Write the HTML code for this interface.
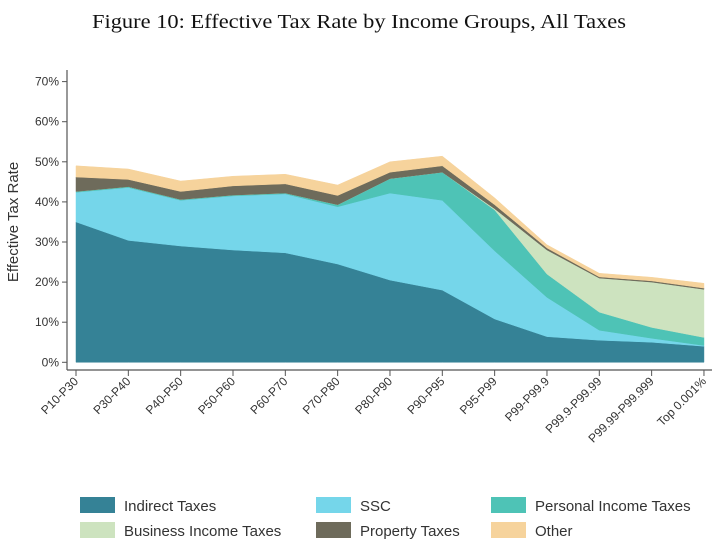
<!DOCTYPE html>
<html><head><meta charset="utf-8"><style>
body{margin:0;background:#fff;width:718px;height:554px;overflow:hidden}
svg{display:block;font-family:"Liberation Sans",sans-serif}
</style></head><body>
<svg id="chart" width="718" height="554">
<text x="359" y="28" text-anchor="middle" font-family="Liberation Serif,serif" font-size="20" fill="#111" textLength="534" lengthAdjust="spacingAndGlyphs">Figure 10: Effective Tax Rate by Income Groups, All Taxes</text>
<text transform="translate(18,222) rotate(-90)" text-anchor="middle" font-size="15" fill="#333">Effective Tax Rate</text>
<g id="areas"></g><g id="axes"></g><g id="legend"></g>
</svg>
<script>
const categories=["P10-P30","P30-P40","P40-P50","P50-P60","P60-P70","P70-P80","P80-P90","P90-P95","P95-P99","P99-P99.9","P99.9-P99.99","P99.99-P99.999","Top 0.001%"];
const indirect=[35,30.4,29,28,27.3,24.5,20.5,18,10.8,6.4,5.5,5,4];
const ssc=[7.4,13.2,11.4,13.5,14.7,14.3,21.7,22.4,17,9.8,2.5,1,0.2];
const personal=[0.2,0.2,0.2,0.2,0.2,0.5,3.6,7,10.2,5.8,4.5,2.7,2];
const business=[0,0,0,0,0,0,0,0,0.3,6,8.5,11.3,12];
const property=[3.6,1.8,2,2.3,2.3,2.3,1.6,1.6,1,0.5,0.3,0.3,0.3];
const other=[2.8,2.6,2.6,2.4,2.4,2.6,2.6,2.4,1.7,0.8,0.9,0.9,1.2];
const yTicks=[0,10,20,30,40,50,60,70];
const seriesNames=["Indirect Taxes","SSC","Personal Income Taxes","Business Income Taxes","Property Taxes","Other"];
const seriesData=[indirect,ssc,personal,business,property,other];
const colors=["#358296","#75d6ea","#4ec3b6","#cde3bf","#6e6b5b","#f6d39c"];
const NS="http://www.w3.org/2000/svg";
const x0=76,xStep=52.33,y0=362.3,yPer=4.01;
const xs=i=>x0+i*xStep, ys=v=>y0-v*yPer;
function mk(t,a,p){const e=document.createElementNS(NS,t);for(const k in a)e.setAttribute(k,a[k]);p.appendChild(e);return e;}
const gA=document.getElementById('areas');
let base=categories.map(()=>0);
seriesData.forEach((s,k)=>{
  const top=base.map((b,i)=>b+s[i]);
  let d=top.map((v,i)=>(i?'L':'M')+xs(i)+','+ys(v)).join('');
  for(let i=categories.length-1;i>=0;i--)d+='L'+xs(i)+','+ys(base[i]);
  const p=mk('path',{d:d+'Z',fill:colors[k],stroke:colors[k],'stroke-width':0.5},gA);
  
  
  base=top;
});
const gX=document.getElementById('axes');
mk('line',{x1:67,y1:70,x2:67,y2:370,stroke:'#555','stroke-width':1.2},gX);
mk('line',{x1:67,y1:370,x2:712,y2:370,stroke:'#555','stroke-width':1.2},gX);
yTicks.forEach(t=>{
  mk('line',{x1:62,x2:67,y1:ys(t),y2:ys(t),stroke:'#555'},gX);
  const tx=mk('text',{x:59,y:ys(t)+4,'text-anchor':'end','font-size':12,fill:'#333'},gX);
  tx.textContent=t+'%';
  
  
});
categories.forEach((c,i)=>{
  mk('line',{x1:xs(i),x2:xs(i),y1:370,y2:376,stroke:'#555'},gX);
  const tx=mk('text',{transform:`translate(${xs(i)+3},${382}) rotate(-45)`,'text-anchor':'end','font-size':12,fill:'#333'},gX);
  tx.textContent=c;
  
  
});
const gL=document.getElementById('legend');
const lx=[80,316,491],ly=[497,522];
seriesNames.forEach((n,k)=>{
  const col=k%3,row=Math.floor(k/3);
  const g=mk('g',{},gL);
  
  
  mk('rect',{x:lx[col],y:ly[row],width:35,height:16,fill:colors[k]},g);
  const t=mk('text',{x:lx[col]+44,y:ly[row]+14,'font-size':15,fill:'#333'},g);
  t.textContent=n;
});
</script>
</body></html>
